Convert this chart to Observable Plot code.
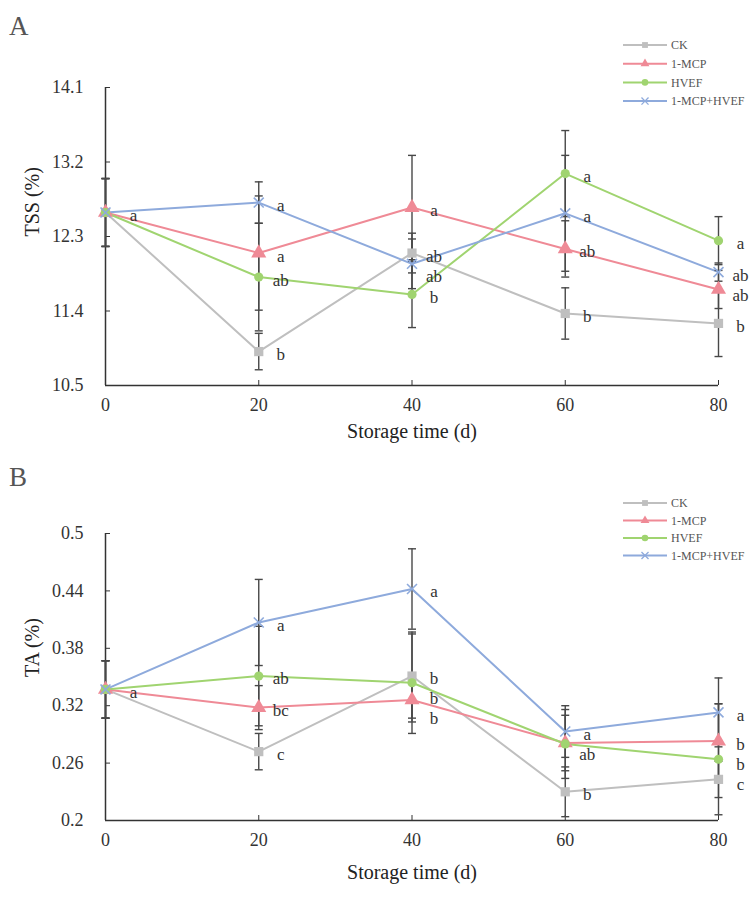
<!DOCTYPE html>
<html><head><meta charset="utf-8">
<script src="https://cdn.jsdelivr.net/npm/d3@7"></script>
<script src="https://cdn.jsdelivr.net/npm/@observablehq/plot@0.6"></script>
<style>
body{margin:0;background:#fff;}
#wrap{position:relative;width:753px;height:908px;font-family:"Liberation Serif","Times New Roman",serif;overflow:hidden;}
.panel{position:absolute;left:0;}
.letter{position:absolute;font-size:27px;color:#555;line-height:1;}
.legend{position:absolute;left:0;}
</style></head><body><div id="wrap"></div>
<script>
// ---------- data ----------
const days = [0, 20, 40, 60, 80];
const seriesNames = ["CK", "1-MCP", "HVEF", "1-MCP+HVEF"];

const tssTicks = [10.5, 11.4, 12.3, 13.2, 14.1];
const taTicks = [0.2, 0.26, 0.32, 0.38, 0.44, 0.5];

// TSS (%)
const tssCK      = [12.59, 10.91, 12.10, 11.37, 11.25];
const tss1MCP    = [12.59, 12.10, 12.65, 12.15, 11.66];
const tssHVEF    = [12.59, 11.81, 11.60, 13.06, 12.25];
const tssCombo   = [12.59, 12.71, 11.97, 12.58, 11.87];
const tssCKErr    = [0.41, 0.22, 0.24, 0.31, 0.40];
const tss1MCPErr  = [0.41, 0.69, 0.63, 0.34, 0.23];
const tssHVEFErr  = [0.41, 0.65, 0.40, 0.52, 0.29];
const tssComboErr = [0.41, 0.25, 0.30, 0.70, 0.11];
const tssCKSig    = ["", "b", "ab", "b", "b"];
const tss1MCPSig  = ["", "a", "a", "ab", "ab"];
const tssHVEFSig  = ["", "ab", "b", "a", "a"];
const tssComboSig = ["a", "a", "ab", "a", "ab"];

// TA (%)
const taCK      = [0.337, 0.272, 0.351, 0.230, 0.243];
const ta1MCP    = [0.337, 0.318, 0.326, 0.281, 0.283];
const taHVEF    = [0.337, 0.351, 0.344, 0.280, 0.264];
const taCombo   = [0.337, 0.407, 0.442, 0.293, 0.313];
const taCKErr    = [0.030, 0.019, 0.044, 0.026, 0.019];
const ta1MCPErr  = [0.030, 0.023, 0.023, 0.029, 0.039];
const taHVEFErr  = [0.030, 0.052, 0.053, 0.036, 0.058];
const taComboErr = [0.030, 0.045, 0.042, 0.027, 0.036];
const taCKSig    = ["", "c", "b", "b", "c"];
const ta1MCPSig  = ["", "bc", "b", "ab", "b"];
const taHVEFSig  = ["", "ab", "b", "", "b"];
const taComboSig = ["a", "a", "a", "a", "a"];

// ---------- styles ----------
const colors = ["#bfbfbf", "#ef8a96", "#a0d470", "#8eaadc"];
const symbols = ["square", "triangle", "circle", "times"];
const markerR = [5.2, 5.6, 4.6, 4.6];
const FONT = '"Liberation Serif","Times New Roman",serif';
const W = 753, H = 454;

function rowsFrom(vals, errs, sigs) {
  const out = [];
  seriesNames.forEach((s, i) => {
    days.forEach((d, j) => out.push({series: s, idx: i, day: d, v: vals[i][j], err: errs[i][j], sig: sigs[i][j]}));
  });
  return out;
}

// push significance letters apart (in pixels) so they do not collide
function placeLabels(rows, y0, y1, innerH, minGap) {
  const k = innerH / (y1 - y0);
  const labels = rows.filter(d => d.sig).map(d => ({...d, ly: d.v}));
  for (const day of days) {
    const g = labels.filter(d => d.day === day).sort((a, b) => b.v - a.v);
    let prev = -Infinity;
    for (const d of g) {
      let py = (y1 - d.v) * k;
      if (py < prev + minGap) py = prev + minGap;
      d.ly = y1 - py / k;
      prev = py;
    }
  }
  return labels;
}

const capSymbol = {
  draw(context, size) {
    const r = Math.sqrt(size / Math.PI);
    context.moveTo(-r, 0);
    context.lineTo(r, 0);
  }
};

function panel({rows, yTicks, yFmt, yLabel, marginTop, marginBottom, xLabelDy, yLabelDx}) {
  const y0 = yTicks[0], y1 = yTicks[yTicks.length - 1];
  const labels = placeLabels(rows, y0, y1, H - marginTop - marginBottom, 20);
  const marks = [
    Plot.axisX({ticks: days, tickSize: -5, tickPadding: 18, tickFormat: d => String(d), label: null, fontSize: 18}),
    Plot.axisY({ticks: yTicks, tickSize: -5, tickPadding: 27, tickFormat: yFmt, label: null, fontSize: 18}),
    Plot.ruleX([0], {stroke: "#333", strokeWidth: 1.5}),
    Plot.ruleY([y0], {stroke: "#333", strokeWidth: 1.5}),
    Plot.text(["Storage time (d)"], {frameAnchor: "bottom", dy: xLabelDy, fontSize: 20, fill: "#222"}),
    Plot.text([yLabel], {frameAnchor: "left", dx: yLabelDx, rotate: -90, fontSize: 20, fill: "#222"})
  ];
  seriesNames.forEach((s, i) => {
    marks.push(Plot.line(rows.filter(d => d.idx === i), {x: "day", y: "v", stroke: colors[i], strokeWidth: 2}));
  });
  marks.push(Plot.ruleX(rows, {x: "day", y1: d => d.v - d.err, y2: d => d.v + d.err, stroke: "#484848", strokeWidth: 1.4}));
  marks.push(Plot.dot(rows, {x: "day", y: d => d.v - d.err, symbol: capSymbol, r: 4, stroke: "#484848", strokeWidth: 1.4, fill: "none"}));
  marks.push(Plot.dot(rows, {x: "day", y: d => d.v + d.err, symbol: capSymbol, r: 4, stroke: "#484848", strokeWidth: 1.4, fill: "none"}));
  seriesNames.forEach((s, i) => {
    const data = rows.filter(d => d.idx === i);
    if (symbols[i] === "times") {
      marks.push(Plot.dot(data, {x: "day", y: "v", symbol: symbols[i], r: markerR[i], stroke: colors[i], strokeWidth: 1.6, fill: "none"}));
    } else {
      marks.push(Plot.dot(data, {x: "day", y: "v", symbol: symbols[i], r: markerR[i], fill: colors[i], stroke: "none"}));
    }
  });
  marks.push(Plot.text(labels.filter(d => d.day !== 0), {x: "day", y: "ly", text: "sig", dx: 22, dy: 3, fontSize: 17, fill: "#333"}));
  marks.push(Plot.text(labels.filter(d => d.day === 0), {x: "day", y: "ly", text: "sig", dx: 28, dy: 3, fontSize: 17, fill: "#333"}));
  return Plot.plot({
    width: W, height: H,
    marginLeft: 105, marginRight: 35, marginTop, marginBottom,
    style: {fontFamily: FONT, fontSize: "18px", color: "#333", background: "transparent", overflow: "visible"},
    x: {domain: [0, 80]},
    y: {domain: [y0, y1]},
    marks
  });
}

function legend(top, rowGap) {
  const svg = d3.create("svg").attr("width", W).attr("height", 90).attr("class", "legend").style("top", top + "px");
  seriesNames.forEach((s, i) => {
    const y = 10 + i * rowGap;
    svg.append("line").attr("x1", 623).attr("x2", 667).attr("y1", y).attr("y2", y).attr("stroke", colors[i]).attr("stroke-width", 2);
    const sym = {square: d3.symbolSquare, triangle: d3.symbolTriangle, circle: d3.symbolCircle, times: d3.symbolTimes}[symbols[i]];
    const p = svg.append("path").attr("d", d3.symbol(sym, 34)()).attr("transform", `translate(645,${y})`);
    if (symbols[i] === "times") p.attr("fill", "none").attr("stroke", colors[i]).attr("stroke-width", 1.3);
    else p.attr("fill", colors[i]);
    svg.append("text").attr("x", 671).attr("y", y).attr("dy", "0.35em").attr("font-family", FONT).attr("font-size", 12).attr("fill", "#555").text(s);
  });
  return svg.node();
}

const wrap = document.getElementById("wrap");

const rowsA = rowsFrom([tssCK, tss1MCP, tssHVEF, tssCombo], [tssCKErr, tss1MCPErr, tssHVEFErr, tssComboErr], [tssCKSig, tss1MCPSig, tssHVEFSig, tssComboSig]);
const rowsB = rowsFrom([taCK, ta1MCP, taHVEF, taCombo], [taCKErr, ta1MCPErr, taHVEFErr, taComboErr], [taCKSig, ta1MCPSig, taHVEFSig, taComboSig]);

const pA = panel({rows: rowsA, yTicks: tssTicks, yFmt: d => d.toFixed(1), yLabel: "TSS (%)", marginTop: 87, marginBottom: 69, xLabelDy: 52, yLabelDx: -73});
pA.classList.add("panel"); pA.style.top = "0px";
const pB = panel({rows: rowsB, yTicks: taTicks, yFmt: d => String(+d.toFixed(2)), yLabel: "TA (%)", marginTop: 79, marginBottom: 88, xLabelDy: 58, yLabelDx: -73});
pB.classList.add("panel"); pB.style.top = H + "px";
wrap.appendChild(pA);
wrap.appendChild(pB);

wrap.appendChild(legend(35, 18.7));
wrap.appendChild(legend(493, 17.5));

const la = document.createElement("div"); la.className = "letter"; la.textContent = "A"; la.style.left = "9px"; la.style.top = "13px"; wrap.appendChild(la);
const lb = document.createElement("div"); lb.className = "letter"; lb.textContent = "B"; lb.style.left = "9px"; lb.style.top = "464px"; wrap.appendChild(lb);
</script>
</body></html>
